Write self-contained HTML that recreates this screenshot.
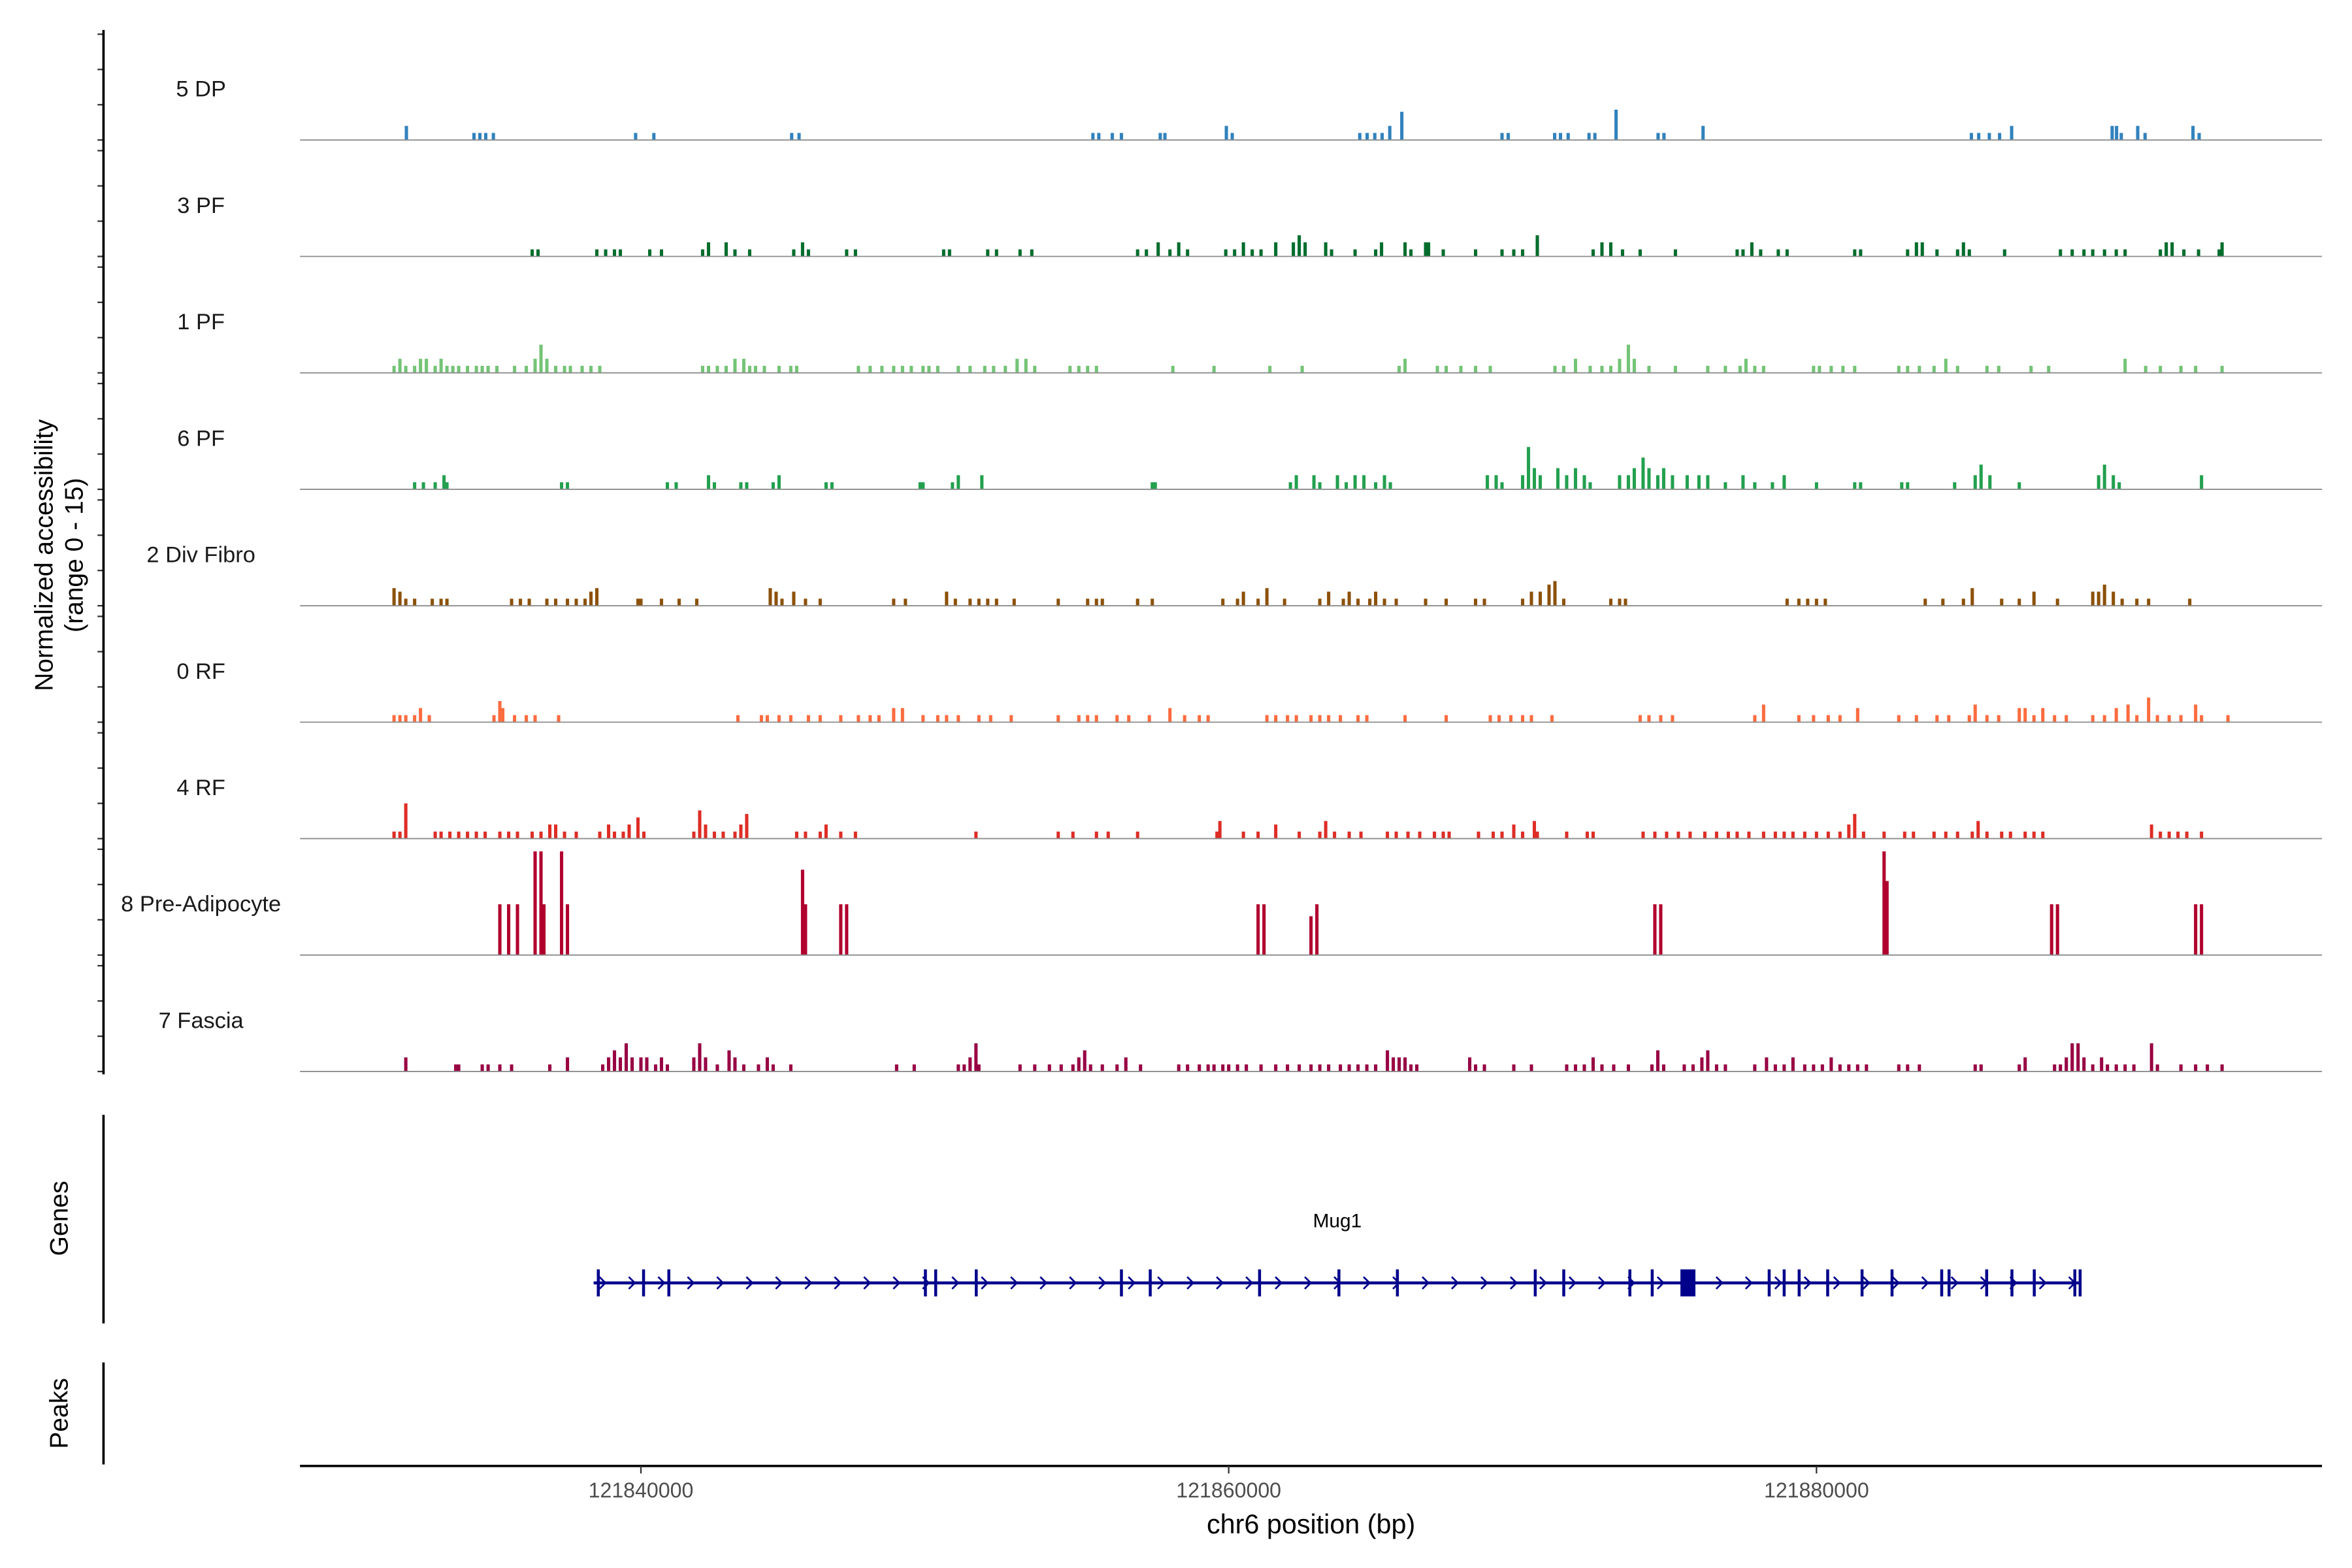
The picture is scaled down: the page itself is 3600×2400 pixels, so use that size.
<!DOCTYPE html>
<html><head><meta charset="utf-8"><style>
html,body{margin:0;padding:0;background:#fff;}
svg{display:block;font-family:"Liberation Sans",sans-serif;}
</style></head><body>
<svg id="chart" width="3600" height="2400" viewBox="0 0 1568 1045" preserveAspectRatio="none" xmlns="http://www.w3.org/2000/svg">
<rect x="0" y="0" width="1568" height="1045" fill="#fff"/>
<g id="tracks"></g>
<g id="genes"></g>
<g id="axes"></g>
</svg>
<script>
// region / scale data
const regionStartBp = 121828400;
const regionEndBp = 121897200;
const xTickValues = [121840000, 121860000, 121880000];
const xTickLabels = ["121840000", "121860000", "121880000"];
const yMax = 15;
const trackNames = ["5 DP","3 PF","1 PF","6 PF","2 Div Fibro","0 RF","4 RF","8 Pre-Adipocyte","7 Fascia"];
const trackColors = ["#3182bd","#006d2c","#74c476","#23a04f","#8c510a","#fc6c3f","#de2d26","#b0002e","#980043"];
// each track: [position kb offset from regionStart, normalized accessibility]
const track5DP = [[3.62,2],[5.92,1],[6.12,1],[6.32,1],[6.58,1],[11.42,1],[12.04,1],[16.73,1],[16.98,1],[26.98,1],[27.18,1],[27.64,1],[27.95,1],[29.27,1],[29.43,1],[31.52,2],[31.72,1],[36.06,1],[36.31,1],[36.57,1],[36.82,1],[37.08,2],[37.49,4],[40.9,1],[41.11,1],[42.69,1],[42.89,1],[43.15,1],[43.86,1],[44.06,1],[44.78,4.3],[46.21,1],[46.41,1],[47.74,2],[56.87,1],[57.12,1],[57.48,1],[57.83,1],[58.24,2],[61.66,2],[61.81,2],[61.97,1],[62.53,2],[62.78,1],[64.41,2],[64.62,1]];
const track3PF = [[7.9,1],[8.1,1],[10.1,1],[10.4,1],[10.7,1],[10.9,1],[11.9,1],[12.3,1],[13.7,1],[13.9,2],[14.5,2],[14.8,1],[15.3,1],[16.8,1],[17.1,2],[17.3,1],[18.6,1],[18.9,1],[21.9,1],[22.1,1],[23.4,1],[23.7,1],[24.5,1],[24.9,1],[28.5,1],[28.8,1],[29.2,2],[29.6,1],[29.9,2],[30.2,1],[31.5,1],[31.8,1],[32.1,2],[32.4,1],[32.7,1],[33.2,2],[33.8,2],[34.0,3],[34.2,2],[34.9,2],[35.1,1],[35.9,1],[36.6,1],[36.8,2],[37.6,2],[37.8,1],[38.3,2],[38.4,2],[38.9,1],[40.0,1],[40.9,1],[41.3,1],[41.6,1],[42.1,3],[44.0,1],[44.3,2],[44.6,2],[45.0,1],[45.6,1],[46.8,1],[48.9,1],[49.1,1],[49.4,2],[49.7,1],[50.3,1],[50.6,1],[52.9,1],[53.1,1],[54.7,1],[55.0,2],[55.2,2],[55.7,1],[56.4,1],[56.6,2],[56.8,1],[58.0,1],[59.9,1],[60.3,1],[60.7,1],[61.0,1],[61.4,1],[61.8,1],[62.1,1],[63.3,1],[63.5,2],[63.7,2],[64.1,1],[64.6,1],[65.3,1],[65.4,2]];
const track1PF = [[3.2,1],[3.4,2],[3.6,1],[3.9,1],[4.1,2],[4.3,2],[4.6,1],[4.8,2],[5.0,1],[5.2,1],[5.4,1],[5.7,1],[6.0,1],[6.2,1],[6.4,1],[6.7,1],[7.3,1],[7.7,1],[8.0,2],[8.2,4],[8.4,2],[8.7,1],[9.0,1],[9.2,1],[9.6,1],[9.9,1],[10.2,1],[13.7,1],[13.9,1],[14.2,1],[14.5,1],[14.8,2],[15.1,2],[15.3,1],[15.5,1],[15.8,1],[16.3,1],[16.7,1],[16.9,1],[19.0,1],[19.4,1],[19.8,1],[20.2,1],[20.5,1],[20.8,1],[21.2,1],[21.4,1],[21.7,1],[22.4,1],[22.8,1],[23.3,1],[23.6,1],[24.0,1],[24.4,2],[24.7,2],[25.0,1],[26.2,1],[26.5,1],[26.8,1],[27.1,1],[29.7,1],[31.1,1],[33.0,1],[34.1,1],[37.4,1],[37.6,2],[38.7,1],[39.0,1],[39.5,1],[40.0,1],[40.5,1],[42.7,1],[43.0,1],[43.4,2],[43.9,1],[44.3,1],[44.6,1],[44.9,2],[45.2,4],[45.4,2],[45.9,1],[46.8,1],[47.9,1],[48.5,1],[49.0,1],[49.2,2],[49.5,1],[49.8,1],[51.5,1],[51.7,1],[52.1,1],[52.5,1],[52.9,1],[54.4,1],[54.7,1],[55.1,1],[55.6,1],[56.0,2],[56.4,1],[57.4,1],[57.8,1],[58.9,1],[59.5,1],[62.1,2],[62.8,1],[63.3,1],[64.0,1],[64.5,1],[65.4,1]];
const track6PF = [[3.9,1],[4.2,1],[4.6,1],[4.9,2],[5.0,1],[8.9,1],[9.1,1],[12.5,1],[12.8,1],[13.9,2],[14.1,1],[15.0,1],[15.2,1],[16.1,1],[16.3,2],[17.9,1],[18.1,1],[21.1,1],[21.2,1],[22.2,1],[22.4,2],[23.2,2],[29.0,1],[29.1,1],[33.7,1],[33.9,2],[34.5,2],[34.7,1],[35.3,2],[35.6,1],[35.9,2],[36.2,2],[36.6,1],[36.9,2],[37.1,1],[40.4,2],[40.7,2],[40.9,1],[41.6,2],[41.8,6],[42.0,3],[42.2,2],[42.8,3],[43.1,2],[43.4,3],[43.7,2],[43.9,1],[44.9,2],[45.2,2],[45.4,3],[45.7,4.5],[45.9,3],[46.2,2],[46.4,3],[46.7,2],[47.2,2],[47.6,2],[47.9,2],[48.5,1],[49.1,2],[49.5,1],[50.1,1],[50.5,2],[51.6,1],[52.9,1],[53.1,1],[54.5,1],[54.7,1],[56.3,1],[57.0,2],[57.2,3.5],[57.5,2],[58.5,1],[61.2,2],[61.4,3.5],[61.7,2],[61.9,1],[64.7,2]];
const trackDivFibro = [[3.2,2.5],[3.4,2],[3.6,1],[3.9,1],[4.5,1],[4.8,1],[5.0,1],[7.2,1],[7.5,1],[7.8,1],[8.4,1],[8.7,1],[9.1,1],[9.4,1],[9.7,1],[9.9,2],[10.1,2.5],[11.5,1],[11.6,1],[12.3,1],[12.9,1],[13.5,1],[16.0,2.5],[16.2,2],[16.4,1],[16.8,2],[17.2,1],[17.7,1],[20.2,1],[20.6,1],[22.0,2],[22.3,1],[22.8,1],[23.1,1],[23.4,1],[23.7,1],[24.3,1],[25.8,1],[26.8,1],[27.1,1],[27.3,1],[28.5,1],[29.0,1],[31.4,1],[31.9,1],[32.1,2],[32.6,1],[32.9,2.5],[33.5,1],[34.7,1],[35.0,2],[35.5,1],[35.7,2],[36.0,1],[36.4,1],[36.6,2],[36.9,1],[37.3,1],[38.3,1],[39.0,1],[40.0,1],[40.3,1],[41.6,1],[41.9,2],[42.2,2],[42.5,3],[42.7,3.5],[43.0,1],[44.6,1],[44.9,1],[45.1,1],[50.6,1],[51.0,1],[51.3,1],[51.6,1],[51.9,1],[55.3,1],[55.9,1],[56.6,1],[56.9,2.5],[57.9,1],[58.5,1],[59.0,2],[59.8,1],[61.0,2],[61.2,2],[61.4,3],[61.7,2],[62.0,1],[62.5,1],[62.9,1],[64.3,1]];
const track0RF = [[3.2,1],[3.4,1],[3.6,1],[3.9,1],[4.1,2],[4.4,1],[6.6,1],[6.8,3],[6.9,2],[7.3,1],[7.7,1],[8.0,1],[8.8,1],[14.9,1],[15.7,1],[15.9,1],[16.3,1],[16.7,1],[17.3,1],[17.7,1],[18.4,1],[19.0,1],[19.4,1],[19.7,1],[20.2,2],[20.5,2],[21.2,1],[21.7,1],[22.0,1],[22.4,1],[23.1,1],[23.5,1],[24.2,1],[25.8,1],[26.5,1],[26.8,1],[27.1,1],[27.8,1],[28.2,1],[28.9,1],[29.6,2],[30.1,1],[30.6,1],[30.9,1],[32.9,1],[33.2,1],[33.6,1],[33.9,1],[34.4,1],[34.7,1],[35.0,1],[35.4,1],[36.0,1],[36.3,1],[37.6,1],[39.0,1],[40.5,1],[40.8,1],[41.2,1],[41.6,1],[41.9,1],[42.6,1],[45.6,1],[45.9,1],[46.3,1],[46.7,1],[49.5,1],[49.8,2.5],[51.0,1],[51.5,1],[52.0,1],[52.4,1],[53.0,2],[54.4,1],[55.0,1],[55.7,1],[56.1,1],[56.8,1],[57.0,2.5],[57.4,1],[57.8,1],[58.5,2],[58.7,2],[59.0,1],[59.3,2],[59.7,1],[60.1,1],[61.0,1],[61.4,1],[61.8,2],[62.2,2.5],[62.5,1],[62.9,3.5],[63.2,1],[63.6,1],[64.0,1],[64.5,2.5],[64.7,1],[65.6,1]];
const track4RF = [[3.2,1],[3.4,1],[3.6,5],[4.6,1],[4.8,1],[5.1,1],[5.4,1],[5.7,1],[6.0,1],[6.3,1],[6.8,1],[7.1,1],[7.4,1],[7.9,1],[8.2,1],[8.5,2],[8.7,2],[9.0,1],[9.4,1],[10.2,1],[10.5,2],[10.7,1],[11.0,1],[11.2,2],[11.5,3],[11.7,1],[13.4,1],[13.6,4],[13.8,2],[14.1,1],[14.4,1],[14.8,1],[15.0,2],[15.2,3.5],[16.9,1],[17.2,1],[17.7,1],[17.9,2],[18.4,1],[18.9,1],[23.0,1],[25.8,1],[26.3,1],[27.1,1],[27.5,1],[28.5,1],[31.2,1],[31.3,2.5],[32.1,1],[32.6,1],[33.2,2],[34.0,1],[34.7,1],[34.9,2.5],[35.2,1],[35.7,1],[36.1,1],[37.0,1],[37.3,1],[37.7,1],[38.1,1],[38.6,1],[38.9,1],[39.1,1],[40.1,1],[40.6,1],[40.9,1],[41.3,2],[41.6,1],[42.0,2.5],[42.1,1],[43.1,1],[43.8,1],[44.0,1],[45.7,1],[46.1,1],[46.5,1],[46.9,1],[47.3,1],[47.8,1],[48.2,1],[48.6,1],[48.9,1],[49.3,1],[49.8,1],[50.2,1],[50.5,1],[50.8,1],[51.2,1],[51.6,1],[52.0,1],[52.4,1],[52.7,2],[52.9,3.5],[53.2,1],[53.9,1],[54.6,1],[54.9,1],[55.6,1],[56.0,1],[56.4,1],[56.9,1],[57.1,2.5],[57.4,1],[57.9,1],[58.2,1],[58.7,1],[59.0,1],[59.3,1],[63.0,2],[63.3,1],[63.6,1],[63.9,1],[64.2,1],[64.7,1]];
const trackPreAdipo = [[6.8,7.2],[7.1,7.2],[7.4,7.2],[8.0,14.7],[8.2,14.7],[8.3,7.2],[8.9,14.7],[9.1,7.2],[17.1,12.1],[17.2,7.2],[18.4,7.2],[18.6,7.2],[32.6,7.2],[32.8,7.2],[34.4,5.5],[34.6,7.2],[46.1,7.2],[46.3,7.2],[53.9,14.7],[54.0,10.5],[59.6,7.2],[59.8,7.2],[64.5,7.2],[64.7,7.2]];
const trackFascia = [[3.6,2],[5.3,1],[5.4,1],[6.2,1],[6.4,1],[6.8,1],[7.2,1],[8.5,1],[9.1,2],[10.3,1],[10.5,2],[10.7,3],[10.9,2],[11.1,4],[11.3,2],[11.6,2],[11.8,2],[12.1,1],[12.3,2],[12.5,1],[13.4,2],[13.6,4],[13.8,2],[14.2,1],[14.6,3],[14.8,2],[15.1,1],[15.6,1],[15.9,2],[16.1,1],[16.7,1],[20.3,1],[20.9,1],[22.4,1],[22.6,1],[22.8,2],[23.0,4],[23.1,1],[24.5,1],[25.0,1],[25.5,1],[25.9,1],[26.3,1],[26.5,2],[26.7,3],[26.9,1],[27.3,1],[27.8,1],[28.1,2],[28.6,1],[29.9,1],[30.2,1],[30.6,1],[30.9,1],[31.1,1],[31.4,1],[31.6,1],[31.9,1],[32.2,1],[32.7,1],[33.2,1],[33.6,1],[34.0,1],[34.4,1],[34.7,1],[35.0,1],[35.4,1],[35.7,1],[36.0,1],[36.3,1],[36.6,1],[37.0,3],[37.2,2],[37.4,2],[37.6,2],[37.8,1],[38.0,1],[39.8,2],[40.0,1],[40.3,1],[41.3,1],[41.9,1],[43.1,1],[43.4,1],[43.7,1],[44.0,2],[44.3,1],[44.7,1],[45.2,1],[46.0,1],[46.2,3],[46.4,1],[47.1,1],[47.4,1],[47.7,2],[47.9,3],[48.2,1],[48.5,1],[49.5,1],[49.9,2],[50.2,1],[50.5,1],[50.8,2],[51.2,1],[51.5,1],[51.8,1],[52.1,2],[52.4,1],[52.7,1],[53.0,1],[53.3,1],[54.4,1],[54.7,1],[55.1,1],[57.0,1],[57.2,1],[58.5,1],[58.7,2],[59.7,1],[59.9,1],[60.1,2],[60.3,4],[60.5,4],[60.7,2],[61.0,1],[61.3,2],[61.5,1],[61.8,1],[62.1,1],[62.4,1],[63.0,4],[63.2,1],[64.0,1],[64.5,1],[64.9,1],[65.4,1]];
const allTracks = [track5DP, track3PF, track1PF, track6PF, trackDivFibro, track0RF, track4RF, trackPreAdipo, trackFascia];
// gene model (kb offsets from regionStart)
const geneName = "Mug1";
const geneStartKb = 9.99;
const geneEndKb = 60.6;
const exonStartsKb = [10.1,11.64,12.5,21.23,21.58,22.96,27.9,28.88,32.6,35.3,37.29,41.98,42.95,45.2,45.96,46.97,49.94,50.45,50.96,51.93,53.1,54.12,55.81,56.06,57.34,58.2,58.96,60.34,60.52];
const exonEndsKb   = [10.2,11.74,12.6,21.33,21.68,23.06,28.0,28.98,32.7,35.4,37.39,42.08,43.05,45.3,46.06,47.48,50.04,50.55,51.06,52.03,53.2,54.22,55.91,56.16,57.44,58.3,59.06,60.44,60.62];

// layout
const SVGNS = "http://www.w3.org/2000/svg";
const plotL = 200, plotR = 1548;
const firstBase = 93.3, trackStep = 77.6, trackH = 70.5;
function xs(bp){ return plotL + (bp - regionStartBp) / (regionEndBp - regionStartBp) * (plotR - plotL); }
function xk(kb){ return xs(regionStartBp + kb * 1000); }
function mk(tag, attrs, parent){
  const e = document.createElementNS(SVGNS, tag);
  for (const k in attrs) e.setAttribute(k, attrs[k]);
  parent.appendChild(e);
  return e;
}
const gTracks = document.getElementById("tracks");
const gGenes = document.getElementById("genes");
const gAxes = document.getElementById("axes");

allTracks.forEach((tr, i) => {
  const base = firstBase + i * trackStep;
  const g = mk("g", {}, gTracks);
  
  
  const lab = mk("text", {x: 134, y: base - 29, "text-anchor": "middle", "font-size": 15, fill: "#1a1a1a"}, g);
  lab.textContent = trackNames[i];
  
  
  tr.forEach(p => {
    const h = p[1] / yMax * trackH;
    const x = xk(p[0]);
    const r = mk("rect", {x: (x - 1.1).toFixed(2), y: (base - h).toFixed(2), width: 2.2, height: h.toFixed(2), fill: trackColors[i]}, g);
    
    
  });
  const bl = mk("line", {x1: plotL, x2: plotR, y1: base, y2: base, stroke: "#8c8c8c", "stroke-width": 0.8}, g);
  
  
  for (let k = 0; k <= 3; k++) {
    const t = mk("line", {x1: 65, x2: 69, y1: base - k * trackH / 3, y2: base - k * trackH / 3, stroke: "#333", "stroke-width": 1}, gAxes);
    
    
  }
});

// gene track
const gy = 855;
const gl = mk("line", {x1: xk(geneStartKb), x2: xk(geneEndKb), y1: gy, y2: gy, stroke: "#00008b", "stroke-width": 2}, gGenes);


for (let kb = geneStartKb + 0.3; kb < geneEndKb - 0.2; kb += 1.0) {
  const x = xk(kb);
  const c = mk("path", {d: `M${x-2},${gy-4} L${x+2},${gy} L${x-2},${gy+4}`, fill: "none", stroke: "#00008b", "stroke-width": 1.2}, gGenes);
  
  
}
exonStartsKb.forEach((s, i) => {
  const x1 = xk(s), x2 = xk(exonEndsKb[i]);
  const e = mk("rect", {x: x1, y: gy - 9, width: Math.max(x2 - x1, 1.8), height: 18, fill: "#00008b"}, gGenes);
  
  
});
const gn = mk("text", {x: xk((geneStartKb + geneEndKb) / 2), y: 818, "text-anchor": "middle", "font-size": 13, fill: "#000"}, gGenes);
gn.textContent = geneName;



// axes
function line(x1,y1,x2,y2,w,name){
  const l = mk("line", {x1, y1, x2, y2, stroke: "#000", "stroke-width": w}, gAxes);
  
  
}
line(69, 20, 69, 716, 1.6, 'y-axis-line');
line(69, 743, 69, 882, 1.6, 'genes-axis-line');
line(69, 908, 69, 976, 1.6, 'peaks-axis-line');
line(plotL, 977, plotR, 977, 1.6, 'x-axis-line');
xTickValues.forEach((v, i) => {
  const x = xs(v);
  const t = mk("line", {x1: x, x2: x, y1: 977, y2: 982, stroke: "#333", "stroke-width": 1}, gAxes);
  
  
  const lb = mk("text", {x: x, y: 998, "text-anchor": "middle", "font-size": 14, fill: "#4d4d4d"}, gAxes);
  lb.textContent = xTickLabels[i];
  
  
});
const xt = mk("text", {x: 874, y: 1022, "text-anchor": "middle", "font-size": 18, fill: "#000"}, gAxes);
xt.textContent = "chr6 position (bp)";


const yt = mk("text", {transform: "translate(35,370) rotate(-90)", "text-anchor": "middle", "font-size": 17, fill: "#000"}, gAxes);
yt.textContent = "Normalized accessibility";


const yt2 = mk("text", {transform: "translate(55,370) rotate(-90)", "text-anchor": "middle", "font-size": 17, fill: "#000"}, gAxes);
yt2.textContent = "(range 0 - 15)";


const gt = mk("text", {transform: "translate(45,812) rotate(-90)", "text-anchor": "middle", "font-size": 17, fill: "#000"}, gAxes);
gt.textContent = "Genes";


const pt = mk("text", {transform: "translate(45,942) rotate(-90)", "text-anchor": "middle", "font-size": 17, fill: "#000"}, gAxes);
pt.textContent = "Peaks";


</script>
</body></html>
